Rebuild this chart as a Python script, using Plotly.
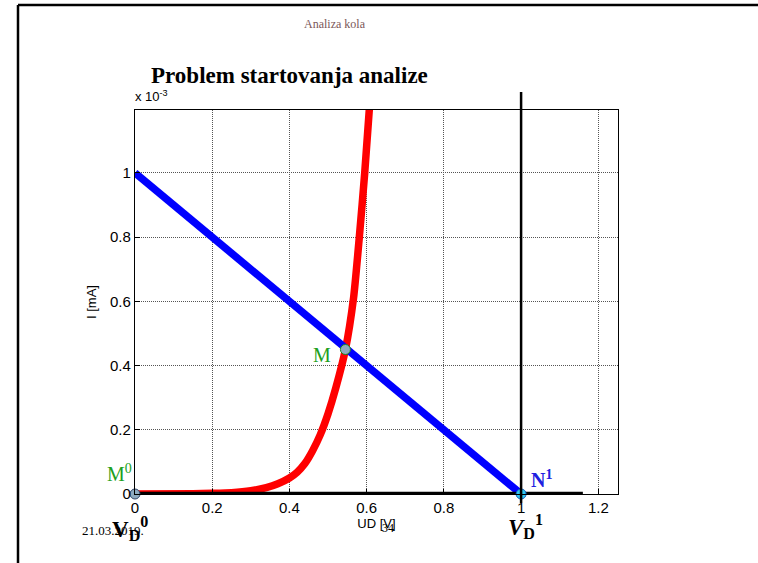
import plotly.graph_objects as go

# ---- data ----
ud_diode = [0.0, 0.15, 0.2, 0.25, 0.3, 0.34, 0.37, 0.4, 0.42, 0.44, 0.46, 0.48, 0.5, 0.52, 0.545, 0.566, 0.581, 0.595, 0.607]
i_diode = [0.0, 0.001, 0.002, 0.004, 0.01, 0.02, 0.032, 0.05, 0.068, 0.095, 0.135, 0.185, 0.25, 0.33, 0.45, 0.61, 0.8, 1.0, 1.2]
ud_load = [0.0, 1.0]
i_load = [1.0, 0.0]
ud_axis = [0.0, 1.16]
i_axis = [0.0, 0.0]
pt_M = (0.545, 0.45)
pt_M0 = (0.0, 0.0)
pt_N1 = (1.0, 0.0)
vd1 = 1.0
x_ticks = [0, 0.2, 0.4, 0.6, 0.8, 1.0, 1.2]
x_tick_text = ["0", "0.2", "0.4", "0.6", "0.8", "1", "1.2"]
y_ticks = [0, 0.2, 0.4, 0.6, 0.8, 1.0]
y_tick_text = ["0", "0.2", "0.4", "0.6", "0.8", "1"]

W, H = 758, 563
L, R, T, B = 135, 618, 110, 494


def px(x):
    return (x - L) / (R - L)


def py(y):
    return (B - y) / (B - T)


SERIF = "Liberation Serif, Times New Roman, serif"
SANS = "Liberation Sans, Arial, sans-serif"

fig = go.Figure()
fig.add_trace(go.Scatter(x=ud_diode, y=i_diode, mode="lines",
                         line=dict(color="#ff0000", width=7.5, shape="spline", smoothing=0.6), hoverinfo="skip"))
fig.add_trace(go.Scatter(x=ud_load, y=i_load, mode="lines", line=dict(color="#0000ff", width=7.5), hoverinfo="skip"))
fig.add_trace(go.Scatter(x=ud_axis, y=i_axis, mode="lines", line=dict(color="#000000", width=4.5), hoverinfo="skip", cliponaxis=False))
fig.add_trace(go.Scatter(x=[pt_M[0]], y=[pt_M[1]], mode="markers",
                         marker=dict(size=10, color="#8eaabf", line=dict(color="#1a8a1a", width=1)), cliponaxis=False))
fig.add_trace(go.Scatter(x=[pt_M0[0]], y=[pt_M0[1]], mode="markers",
                         marker=dict(size=10, color="#8eaabf", line=dict(color="#334466", width=1)), cliponaxis=False))
fig.add_trace(go.Scatter(x=[pt_N1[0]], y=[pt_N1[1]], mode="markers",
                         marker=dict(size=10, color="#33c8f0", line=dict(color="#1060c0", width=1)), cliponaxis=False))

shapes = [
    dict(type="line", xref="x", yref="paper", x0=vd1, x1=vd1, y0=py(503), y1=py(92),
         line=dict(color="black", width=2.5)),
    dict(type="line", xref="paper", yref="paper", x0=px(18), x1=px(760), y0=py(5), y1=py(5),
         line=dict(color="black", width=2.5)),
    dict(type="line", xref="paper", yref="paper", x0=px(18), x1=px(18), y0=py(5), y1=py(565),
         line=dict(color="black", width=2.5)),
]

ann = []


def add(text, x, y, size, color="black", family=SERIF, xanchor="center", yanchor="middle"):
    ann.append(dict(text=text, x=px(x), y=py(y), xref="paper", yref="paper", showarrow=False,
                    xanchor=xanchor, yanchor=yanchor, font=dict(size=size, color=color, family=family)))


add("Analiza kola", 335, 24, 12, color="#7a5858")
add("<b>Problem startovanja analize</b>", 149, 75, 23, xanchor="left")
add("x 10<sup>-3</sup>", 133, 96, 13, family=SANS, xanchor="left")
add("M", 322, 355, 20, color="#20a020")
add("M<sup>0</sup>", 119, 473, 20, color="#20a020")
add("<b>N<sup>1</sup></b>", 541, 479, 20, color="#2020e0")
add("21.03.2019.", 80, 530, 13, xanchor="left")
add("<b>V<sub>D</sub><sup>0</sup></b>", 110, 528, 23, xanchor="left")
add("<b><i>V</i><sub>D</sub><sup>1</sup></b>", 506, 526, 23, xanchor="left")
add("34", 388, 528, 12)

axis_common = dict(showline=True, linecolor="black", linewidth=1.2, mirror=True,
                   showgrid=True, gridcolor="#555555", gridwidth=1, griddash="1px,1px",
                   ticks="inside", ticklen=5, tickcolor="black", zeroline=False,
                   tickfont=dict(family=SANS, size=15, color="black"))

fig.update_layout(
    width=W, height=H, margin=dict(l=L, r=W - R, t=T, b=H - B, autoexpand=False),
    paper_bgcolor="white", plot_bgcolor="white", showlegend=False,
    xaxis=dict(range=[0, 1.251], tickvals=x_ticks, ticktext=x_tick_text,
               title=dict(text="UD [V]", font=dict(family=SANS, size=13, color="black"), standoff=3), **axis_common),
    yaxis=dict(range=[0, 1.196], tickvals=y_ticks, ticktext=y_tick_text,
               title=dict(text="I [mA]", font=dict(family=SANS, size=13, color="black"), standoff=10), **axis_common),
    shapes=shapes, annotations=ann,
)

fig.write_html("out.html")
